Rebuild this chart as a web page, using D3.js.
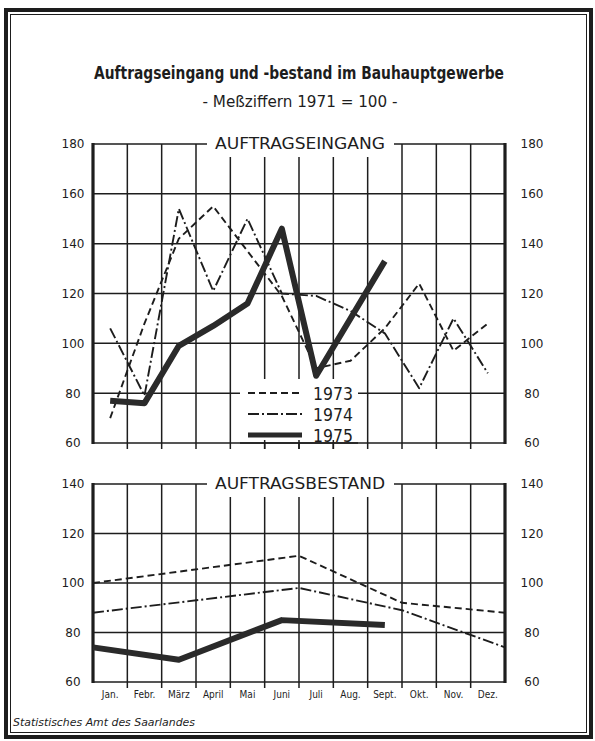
<!DOCTYPE html>
<html>
<head>
<meta charset="utf-8">
<script src="https://cdn.jsdelivr.net/npm/d3@7"></script>
<style>
  body { margin: 0; background: #fff; }
  svg { display: block; }
</style>
</head>
<body>
<svg id="chart" width="595" height="741"></svg>
<script>
const MONTHS = ["Jan.", "Febr.", "März", "April", "Mai", "Juni", "Juli", "Aug.", "Sept.", "Okt.", "Nov.", "Dez."];
const YEARS = ["1973", "1974", "1975"];

// Auftragseingang, monthly values (1971 = 100)
const eingang1973 = [70, 108, 142, 155, 137, 119, 90, 93, 106, 124, 97, 108];
const eingang1974 = [106, 79, 154, 121, 150, 120, 119, 113, 104, 82, 110, 88];
const eingang1975 = [77, 76, 99, 107, 116, 146, 87, 110, 133];

// Auftragsbestand, points given as month position (0 = start of Jan, 12 = end of Dec)
const bestandPos1973 = [0, 6, 9, 12];
const bestand1973 = [100, 111, 92, 88];
const bestandPos1974 = [0, 6, 9, 12];
const bestand1974 = [88, 98, 89, 74];
const bestandPos1975 = [0, 2.5, 5.5, 8.5];
const bestand1975 = [74, 69, 85, 83];

const eingangTicks = [60, 80, 100, 120, 140, 160, 180];
const bestandTicks = [60, 80, 100, 120, 140];

const INK = '#1d1d1d';
const FONT = '"DejaVu Sans Condensed", "DejaVu Sans", sans-serif';

const STYLES = {
    '1973': { width: 1.9, dash: '7,4' },
    '1974': { width: 1.9, dash: '11,3,2,3' },
    '1975': { width: 6, dash: null },
};

let svg = d3.select('#chart');

let x = d3.scaleLinear().domain([0, 12]).range([93, 505]);
let xBand = d3.scaleBand().domain(MONTHS).range([93, 505]);

// outer frame
svg.append('rect')
    .attr('x', 6).attr('y', 10).attr('width', 585).attr('height', 727)
    .attr('fill', 'none').attr('stroke', INK).attr('stroke-width', 4);
svg.append('rect')
    .attr('x', 10.5).attr('y', 14.5).attr('width', 576).attr('height', 718)
    .attr('fill', 'none').attr('stroke', INK).attr('stroke-width', 1);

svg.append('text')
    .attr('x', 299).attr('y', 79)
    .attr('text-anchor', 'middle')
    .attr('font-family', FONT).attr('font-weight', 'bold').attr('font-size', 18)
    .attr('textLength', 410).attr('lengthAdjust', 'spacingAndGlyphs')
    .attr('fill', INK)
    .text('Auftragseingang und -bestand im Bauhauptgewerbe');

svg.append('text')
    .attr('x', 300).attr('y', 107)
    .attr('text-anchor', 'middle')
    .attr('font-family', FONT).attr('font-size', 15)
    .attr('textLength', 195).attr('lengthAdjust', 'spacingAndGlyphs')
    .attr('fill', INK)
    .text('- Meßziffern 1971 = 100 -');

function drawPanel(y, ticks, label) {
    let g = svg.append('g');
    let yTop = y(ticks[ticks.length - 1]);
    let yBottom = y(ticks[0]);

    // horizontal grid
    g.selectAll('.hgrid').data(ticks).join('line')
        .attr('x1', x(0)).attr('x2', x(12))
        .attr('y1', d => y(d)).attr('y2', d => y(d))
        .attr('stroke', INK).attr('stroke-width', 1.5);

    // vertical grid, running a little below the bottom line
    g.selectAll('.vgrid').data(d3.range(1, 12)).join('line')
        .attr('x1', d => x(d)).attr('x2', d => x(d))
        .attr('y1', yTop).attr('y2', yBottom + 6)
        .attr('stroke', INK).attr('stroke-width', 1.5);

    // heavy side edges
    g.selectAll('.edge').data([0, 12]).join('line')
        .attr('x1', d => x(d)).attr('x2', d => x(d))
        .attr('y1', yTop - 1).attr('y2', yBottom + 1)
        .attr('stroke', INK).attr('stroke-width', 3.2);

    // label sits in a gap of the top border
    g.append('rect')
        .attr('x', 207).attr('y', yTop - 12).attr('width', 187).attr('height', 25)
        .attr('fill', '#fff');
    g.append('text')
        .attr('x', 300).attr('y', yTop + 5)
        .attr('text-anchor', 'middle')
        .attr('font-family', FONT).attr('font-size', 16)
        .attr('textLength', 170).attr('lengthAdjust', 'spacingAndGlyphs')
        .attr('fill', INK)
        .text(label);

    let left = g.append('g')
        .attr('transform', 'translate(73,0)')
        .call(d3.axisLeft(y).tickValues(ticks).tickSize(0).tickPadding(0));
    let right = g.append('g')
        .attr('transform', 'translate(532,0)')
        .call(d3.axisRight(y).tickValues(ticks).tickSize(0).tickPadding(0));
    [left, right].forEach(axis => {
        axis.select('.domain').remove();
        axis.selectAll('text')
            .attr('text-anchor', 'middle')
            .attr('font-family', '"DejaVu Sans", sans-serif')
            .attr('font-size', 12)
            .attr('fill', INK);
    });
    return g;
}

function drawSeries(g, points, year) {
    let style = STYLES[year];
    let line = d3.line().x(d => x(d[0])).y(d => d[1]);
    g.append('path')
        .attr('d', line(points))
        .attr('fill', 'none')
        .attr('stroke', year == '1975' ? '#2a2a2a' : INK)
        .attr('stroke-width', style.width)
        .attr('stroke-dasharray', style.dash)
        .attr('stroke-linejoin', 'round');
}

// ---- Auftragseingang ----
let yEingang = d3.scaleLinear().domain([60, 180]).range([443, 144]);
let gTop = drawPanel(yEingang, eingangTicks, 'AUFTRAGSEINGANG');

// legend box covers the grid, the bottom line and short ticks stay
gTop.append('rect')
    .attr('x', 240).attr('y', 379).attr('width', 118).attr('height', 63)
    .attr('fill', '#fff');
gTop.append('line')
    .attr('x1', 240).attr('x2', 358)
    .attr('y1', yEingang(60)).attr('y2', yEingang(60))
    .attr('stroke', INK).attr('stroke-width', 1.5);
[5, 6, 7].forEach(m => {
    gTop.append('line')
        .attr('x1', x(m)).attr('x2', x(m))
        .attr('y1', yEingang(60) - 3).attr('y2', yEingang(60) + 6)
        .attr('stroke', INK).attr('stroke-width', 1.5);
});

[eingang1973, eingang1974, eingang1975].forEach((values, k) => {
    drawSeries(gTop, values.map((v, i) => [i + 0.5, yEingang(v)]), YEARS[k]);
});

let legend = gTop.append('g');
YEARS.forEach((year, k) => {
    let ly = 393 + k * 21;
    let style = STYLES[year];
    legend.append('line')
        .attr('x1', 248).attr('x2', 302)
        .attr('y1', ly).attr('y2', ly)
        .attr('stroke', year == '1975' ? '#2a2a2a' : INK)
        .attr('stroke-width', year == '1975' ? 5 : style.width)
        .attr('stroke-dasharray', style.dash);
    legend.append('text')
        .attr('x', 313).attr('y', ly + 7)
        .attr('font-family', FONT).attr('font-size', 17)
        .attr('textLength', 40).attr('lengthAdjust', 'spacingAndGlyphs')
        .attr('fill', INK)
        .text(year);
});

// ---- Auftragsbestand ----
let yBestand = d3.scaleLinear().domain([60, 140]).range([682, 484]);
let gBottom = drawPanel(yBestand, bestandTicks, 'AUFTRAGSBESTAND');

drawSeries(gBottom, bestandPos1973.map((p, i) => [p, yBestand(bestand1973[i])]), '1973');
drawSeries(gBottom, bestandPos1974.map((p, i) => [p, yBestand(bestand1974[i])]), '1974');
drawSeries(gBottom, bestandPos1975.map((p, i) => [p, yBestand(bestand1975[i])]), '1975');

let monthAxis = gBottom.append('g')
    .attr('transform', 'translate(0,' + (yBestand(60) + 4) + ')')
    .call(d3.axisBottom(xBand).tickSize(0).tickPadding(5));
monthAxis.select('.domain').remove();
monthAxis.selectAll('text')
    .attr('font-family', FONT)
    .attr('font-size', 10)
    .attr('fill', INK);

svg.append('text')
    .attr('x', 13).attr('y', 726)
    .attr('font-family', FONT).attr('font-style', 'italic').attr('font-size', 10)
    .attr('textLength', 182).attr('lengthAdjust', 'spacingAndGlyphs')
    .attr('fill', INK)
    .text('Statistisches Amt des Saarlandes');
</script>
</body>
</html>
